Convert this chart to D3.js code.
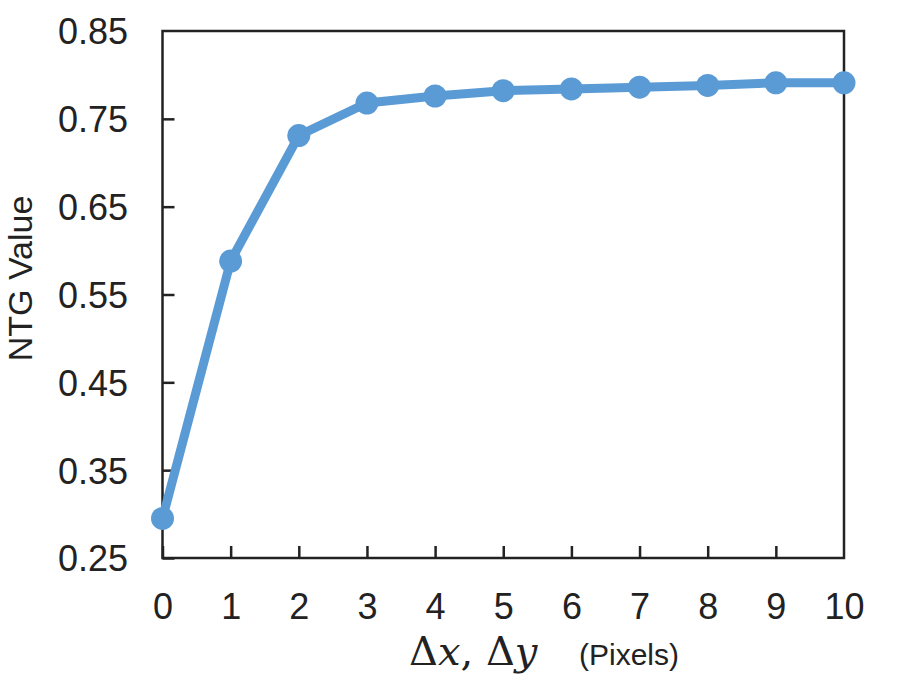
<!DOCTYPE html>
<html><head><meta charset="utf-8">
<script src="https://cdn.jsdelivr.net/npm/d3@7"></script>
<style>body{margin:0;background:#fff}</style>
</head><body>
<svg id="c" width="899" height="681"></svg>
<script>
const xValues = [0,1,2,3,4,5,6,7,8,9,10];
const ntgValues = [0.295,0.588,0.731,0.768,0.776,0.782,0.784,0.786,0.788,0.791,0.791];
const yTicks = [0.25,0.35,0.45,0.55,0.65,0.75,0.85];
const xTicks = [0,1,2,3,4,5,6,7,8,9,10];

const svg = d3.select("#c");
const L=162.5, R=844, T=31, B=558;
const x = d3.scaleLinear().domain([0,10]).range([L,R]);
const y = d3.scaleLinear().domain([0.25,0.85]).range([B,T]);
const font = "'Liberation Sans', Arial, sans-serif";
const ink = "#222";

svg.append("rect").attr("x",L).attr("y",T).attr("width",R-L).attr("height",B-T)
  .attr("fill","none").attr("stroke",ink).attr("stroke-width",2.5);

const xa = svg.append("g").attr("transform",`translate(0,${B})`)
  .call(d3.axisBottom(x).tickValues(xTicks).tickSizeInner(-12).tickSizeOuter(0).tickFormat(d3.format("d")));
const ya = svg.append("g").attr("transform",`translate(${L},0)`)
  .call(d3.axisLeft(y).tickValues(yTicks).tickSizeInner(-12).tickSizeOuter(0).tickFormat(d3.format(".2f")));
[xa,ya].forEach(a=>{
  a.select(".domain").remove();
  a.selectAll(".tick line").attr("stroke",ink).attr("stroke-width",2.5);
  a.selectAll(".tick text").attr("fill",ink).style("font-family",font).style("font-size","36px");
});
xa.selectAll(".tick").filter(d=>d===10).select("line").remove();
ya.selectAll(".tick").filter(d=>d===0.85).select("line").remove();
xa.selectAll(".tick text").attr("y",61).attr("dy",0);
ya.selectAll(".tick text").attr("x",-34.5).attr("dy","0.36em");

const line = d3.line().x((d,i)=>x(xValues[i])).y(d=>y(d));
svg.append("path").datum(ntgValues).attr("d",line).attr("fill","none")
  .attr("stroke","#5b9bd5").attr("stroke-width",9).attr("stroke-linejoin","round");
svg.selectAll("circle.pt").data(ntgValues).enter().append("circle")
  .attr("cx",(d,i)=>x(xValues[i])).attr("cy",d=>y(d)).attr("r",11.5).attr("fill","#5b9bd5");

svg.append("text").attr("transform","translate(32,278.5) rotate(-90)").attr("text-anchor","middle")
  .style("font-family",font).style("font-size","34px").attr("fill",ink).text("NTG Value");

const mf = "'DejaVu Serif',serif";
const xt = svg.append("text").attr("x",409).attr("y",665).attr("fill",ink).style("font-family",mf).style("font-size","40px");
xt.append("tspan").text("Δ");
xt.append("tspan").style("font-style","italic").text("x");
xt.append("tspan").text(", Δ");
xt.append("tspan").style("font-style","italic").text("y");
svg.append("text").attr("x",579).attr("y",665).attr("fill",ink).style("font-family",font).style("font-size","30px").text("(Pixels)");
</script>
</body></html>
